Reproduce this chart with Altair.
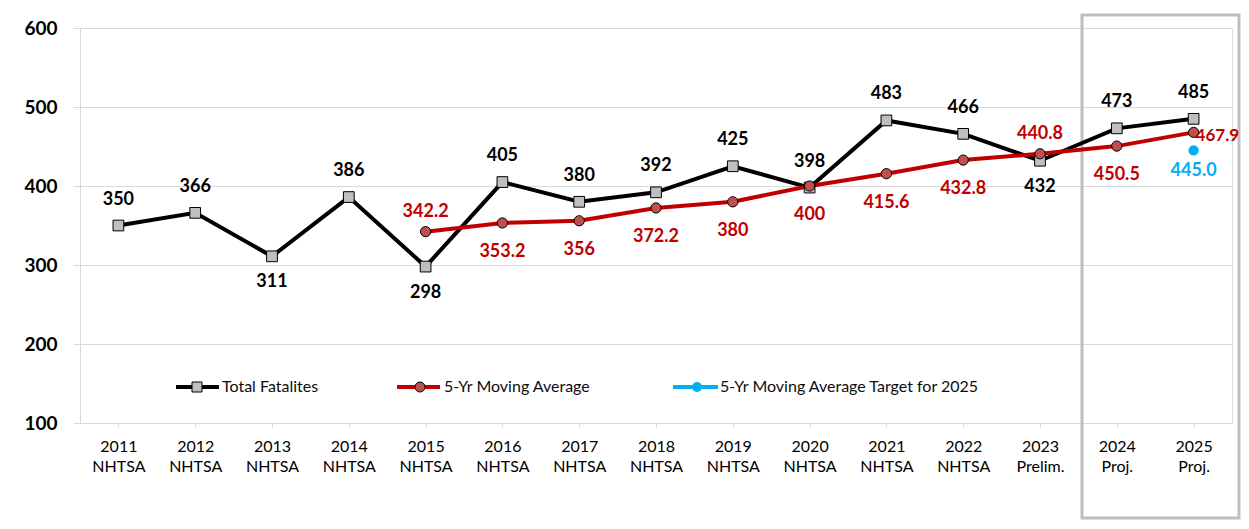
import altair as alt
import pandas as pd

# ---------------- data ----------------
years = ["2011", "2012", "2013", "2014", "2015", "2016", "2017", "2018",
         "2019", "2020", "2021", "2022", "2023", "2024", "2025"]
sources = ["NHTSA"] * 12 + ["Prelim.", "Proj.", "Proj."]
total_fatalities = [350, 366, 311, 386, 298, 405, 380, 392, 425, 398, 483, 466, 432, 473, 485]

ma_years = ["2015", "2016", "2017", "2018", "2019", "2020", "2021", "2022", "2023", "2024", "2025"]
ma_values = [342.2, 353.2, 356, 372.2, 380, 400, 415.6, 432.8, 440.8, 450.5, 467.9]
ma_labels = ["342.2", "353.2", "356", "372.2", "380", "400", "415.6", "432.8", "440.8", "450.5", "467.9"]

target_years = ["2025"]
target_values = [445.0]
target_labels = ["445.0"]

legend_labels = ["Total Fatalites", "5-Yr Moving Average", "5-Yr Moving Average Target for 2025"]

# label placement groups
total_below = ["2013", "2015", "2023"]
ma_above = ["2015", "2023"]
ma_right = ["2025"]

y_ticks = [100, 200, 300, 400, 500, 600]

# ---------------- tables ----------------
cat_of = {y: f"{y} {s}" for y, s in zip(years, sources)}
categories = [cat_of[y] for y in years]

df_total = pd.DataFrame({
    "year": years,
    "cat": categories,
    "value": total_fatalities,
    "label": [str(v) for v in total_fatalities],
})
df_total["grp"] = ["below" if y in total_below else "above" for y in years]

df_ma = pd.DataFrame({
    "year": ma_years,
    "cat": [cat_of[y] for y in ma_years],
    "value": ma_values,
    "label": ma_labels,
})
df_ma["grp"] = ["above" if y in ma_above else ("right" if y in ma_right else "below") for y in ma_years]

df_target = pd.DataFrame({
    "year": target_years,
    "cat": [cat_of[y] for y in target_years],
    "value": target_values,
    "label": target_labels,
})

FONT = "Lato"
BLACK = "#000000"
RED = "#c00000"
RED_FILL = "#c0504d"
BLUE = "#00b0f0"
GRAY = "#d9d9d9"

x_enc = alt.X(
    "cat:N",
    sort=categories,
    scale=alt.Scale(type="point", padding=0.5, domain=categories),
    axis=alt.Axis(
        title=None,
        labelAngle=0,
        labelExpr="split(datum.label, ' ')",
        labelFont=FONT,
        labelFontSize=16,
        labelColor=BLACK,
        labelLineHeight=20,
        labelPadding=11,
        tickColor=GRAY,
        tickSize=4,
        domainColor=GRAY,
        grid=False,
    ),
)
y_enc = alt.Y(
    "value:Q",
    scale=alt.Scale(domain=[100, 600], nice=False, zero=False),
    axis=alt.Axis(
        title=None,
        values=y_ticks,
        labelFont=FONT,
        labelFontSize=19,
        labelFontWeight="bold",
        labelColor=BLACK,
        labelPadding=16,
        tickColor=GRAY,
        tickSize=7,
        domainColor=GRAY,
        gridColor=GRAY,
        grid=True,
    ),
)

base_total = alt.Chart(df_total)
base_ma = alt.Chart(df_ma)
base_target = alt.Chart(df_target)

box = alt.Chart(pd.DataFrame({"k": [0]})).mark_rect(
    fill="transparent", stroke="#bfbfbf", strokeWidth=3, clip=False
).encode(x=alt.value(1002), x2=alt.value(1159), y=alt.value(-13), y2=alt.value(490))

line_total = base_total.mark_line(color=BLACK, strokeWidth=4).encode(x=x_enc, y=y_enc)
line_ma = base_ma.mark_line(color=RED, strokeWidth=4).encode(x=x_enc, y=y_enc)

pts_total = base_total.mark_point(
    shape="square", filled=True, fill="#bfbfbf", stroke=BLACK, strokeWidth=1, size=115, opacity=1
).encode(x=x_enc, y=y_enc)
pts_ma = base_ma.mark_point(
    shape="circle", filled=True, fill=RED_FILL, stroke=BLACK, strokeWidth=1, size=105, opacity=1
).encode(x=x_enc, y=y_enc)
pts_target = base_target.mark_point(
    shape="circle", filled=True, fill=BLUE, strokeWidth=0, size=105, opacity=1
).encode(x=x_enc, y=y_enc)

def labels(base, grp, color, size=18, **kw):
    return base.transform_filter(alt.datum.grp == grp).mark_text(
        font=FONT, fontSize=size, fontWeight="bold", color=color, baseline="middle", **kw
    ).encode(x=x_enc, y=y_enc, text="label:N")

lab_total_above = labels(base_total, "above", BLACK, dy=-26)
lab_total_below = labels(base_total, "below", BLACK, dy=26)
lab_ma_above = labels(base_ma, "above", RED, dy=-20)
lab_ma_below = labels(base_ma, "below", RED, dy=29)
lab_ma_right = labels(base_ma, "right", RED, size=17, dy=4, dx=2, align="left")
lab_target = base_target.mark_text(
    font=FONT, fontSize=18, fontWeight="bold", color=BLUE, baseline="middle", dy=21
).encode(x=x_enc, y=y_enc, text="label:N")

# ---------------- manual legend ----------------
leg_y = 359
leg_items = [
    (legend_labels[0], BLACK, 96, 139, 117, dict(shape="square", fill="#bfbfbf", stroke=BLACK, strokeWidth=1, size=100), 142),
    (legend_labels[1], RED, 317, 360, 340, dict(shape="circle", fill=RED_FILL, stroke=BLACK, strokeWidth=1, size=100), 364),
    (legend_labels[2], BLUE, 593, 638, 617, dict(shape="circle", fill=BLUE, strokeWidth=0, size=100), 640),
]
legend_layers = []
one = pd.DataFrame({"k": [0]})
for text, color, x1, x2, xm, mk, xt in leg_items:
    legend_layers.append(
        alt.Chart(one).mark_rule(color=color, strokeWidth=4).encode(
            x=alt.value(x1), x2=alt.value(x2), y=alt.value(leg_y))
    )
    legend_layers.append(
        alt.Chart(one).mark_point(filled=True, opacity=1, **mk).encode(
            x=alt.value(xm), y=alt.value(leg_y))
    )
    legend_layers.append(
        alt.Chart(one).mark_text(font=FONT, fontSize=16, color="#0d0d0d", align="left", baseline="middle").encode(
            x=alt.value(xt), y=alt.value(leg_y), text=alt.value(text))
    )

chart = alt.layer(
    box, line_total, line_ma, pts_total, pts_ma, pts_target,
    lab_total_above, lab_total_below, lab_ma_above, lab_ma_below, lab_ma_right, lab_target,
    *legend_layers,
).properties(
    width=1152,
    height=395,
    padding={"left": 72, "top": 20, "right": 9, "bottom": 98},
    autosize="none",
).configure_view(stroke=None).configure(background="white")

chart.save("out.html", embed_options={"renderer": "svg", "actions": False})
